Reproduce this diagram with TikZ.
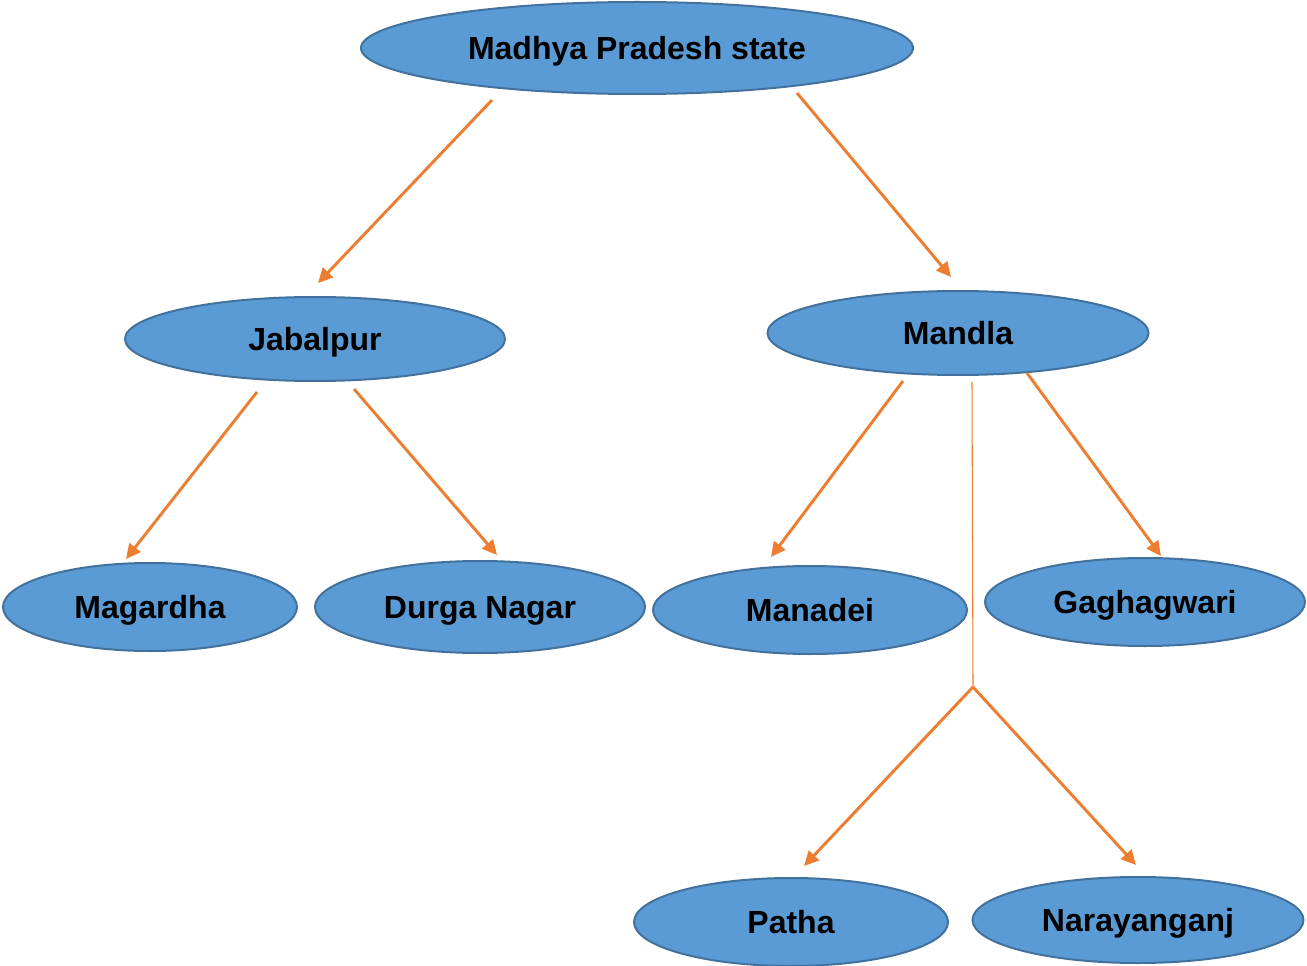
\documentclass[tikz,border=0pt]{standalone}
\usepackage{fontspec}
\setmainfont{Liberation Sans}
\usetikzlibrary{shapes.geometric,arrows.meta}
\definecolor{bubble}{HTML}{5B9BD5}
\definecolor{bubbleedge}{HTML}{41719C}
\definecolor{link}{HTML}{ED7D31}
\begin{document}
\begin{tikzpicture}[x=0.75pt,y=-0.75pt,
  place/.style={ellipse,draw=bubbleedge,fill=bubble,line width=1.5pt,inner sep=0pt,
    font=\fontsize{24}{28}\selectfont\bfseries,text=black,
    text height=17.2pt,text depth=0pt},
  size/.style 2 args={minimum width=#1*0.75pt,minimum height=#2*0.75pt},
  branch/.style={draw=link,line width=2.2pt,-{Triangle[length=11pt,width=10.5pt]}},
  stem/.style={draw=link,line width=0.8pt}]
\useasboundingbox (0,0) rectangle (1307,966);

% districts and villages
\node[place,size={552}{92}] (mp) at (637,48) {Madhya Pradesh state};
\node[place,size={380}{84}] (jab) at (315,339) {Jabalpur};
\node[place,size={381}{84}] (man) at (958,333) {Mandla};
\node[place,size={294}{88}] (mag) at (150,607) {Magardha};
\node[place,size={330}{92}] (dur) at (480,607) {Durga Nagar};
\node[place,size={314}{88}] (mnd) at (810,610) {Manadei};
\node[place,size={320}{88}] (gag) at (1145,602) {Gaghagwari};
\node[place,size={314}{88}] (pat) at (791,922) {Patha};
\node[place,size={331}{86}] (nar) at (1138,920) {Narayanganj};

% connector end points
\coordinate (mpL) at (492,100);  \coordinate (jabT) at (318,283);
\coordinate (mpR) at (797,93);   \coordinate (manT) at (951,277);
\coordinate (jabL) at (257,392); \coordinate (magT) at (126,559);
\coordinate (jabR) at (354,389); \coordinate (durT) at (497,555);
\coordinate (manL) at (903,381); \coordinate (mndT) at (771,557);
\coordinate (manR) at (1027,373);\coordinate (gagT) at (1161,556);
\coordinate (manB) at (972,382); \coordinate (fork) at (973,687);
\coordinate (patT) at (804,866); \coordinate (narT) at (1136,865);

\draw[branch] (mpL) -- (jabT);
\draw[branch] (mpR) -- (manT);
\draw[branch] (jabL) -- (magT);
\draw[branch] (jabR) -- (durT);
\draw[branch] (manL) -- (mndT);
\draw[branch] (manR) -- (gagT);
\draw[stem] (manB) -- (fork);
\draw[branch] (fork) -- (patT);
\draw[branch] (fork) -- (narT);
\end{tikzpicture}
\end{document}
